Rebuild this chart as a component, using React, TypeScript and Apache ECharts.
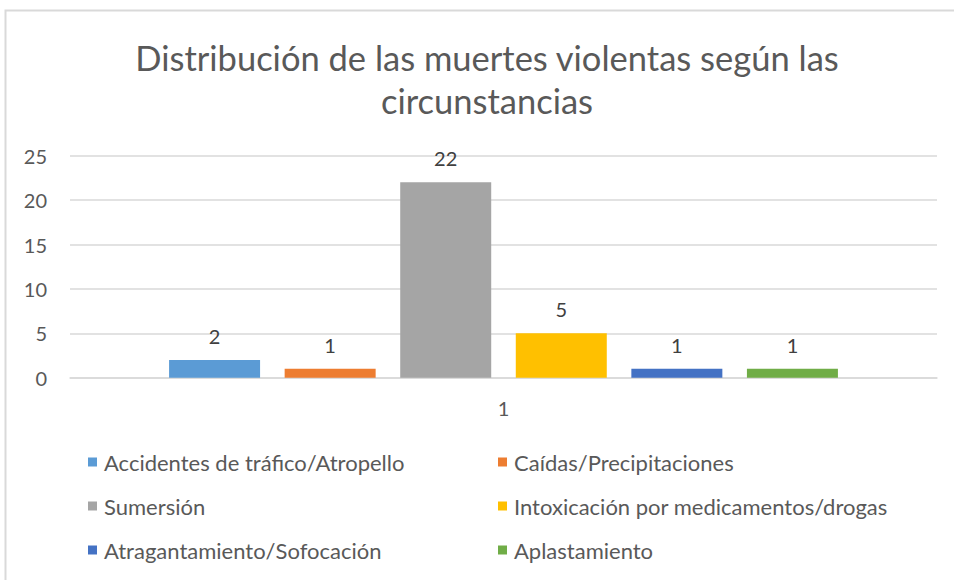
import React, { useEffect, useRef } from "react";
import * as echarts from "echarts";

const titleLines = ["Distribución de las muertes violentas según las", "circunstancias"];
const categories = ["1"];
const seriesNames = [
  "Accidentes de tráfico/Atropello",
  "Caídas/Precipitaciones",
  "Sumersión",
  "Intoxicación por medicamentos/drogas",
  "Atragantamiento/Sofocación",
  "Aplastamiento",
];
const seriesValues = [2, 1, 22, 5, 1, 1];
const seriesColors = ["#5B9BD5", "#ED7D31", "#A5A5A5", "#FFC000", "#4472C4", "#70AD47"];
const yMin = 0;
const yMax = 25;
const yInterval = 5;

const FONT = "Lato";

export default function App() {
  const ref = useRef<HTMLDivElement>(null);
  useEffect(() => {
    document.body.style.margin = "0";
    const chart = echarts.init(ref.current!, null, { renderer: "svg" });
    const legendCommon = {
      orient: "vertical",
      top: 446,
      itemWidth: 9,
      itemHeight: 9,
      itemGap: 22,
      icon: "rect",
      textStyle: { fontFamily: FONT, fontSize: 22, color: "#595959", padding: [0, 0, 0, 2] },
      selectedMode: false,
    };
    chart.setOption({
      animation: false,
      backgroundColor: "#ffffff",
      textStyle: { fontFamily: FONT },
      graphic: [
        {
          type: "polyline",
          shape: { points: [[5.5, 600], [5.5, 10.5], [960, 10.5]] },
          style: { stroke: "#d9d9d9", lineWidth: 2, fill: "none" },
          silent: true,
        },
        {
          type: "text",
          x: 487,
          y: 57,
          style: {
            text: titleLines[0],
            fontFamily: FONT,
            fontSize: 34.5,
            fill: "#595959",
            align: "center",
            verticalAlign: "middle",
          },
        },
        {
          type: "text",
          x: 487,
          y: 100,
          style: {
            text: titleLines[1],
            fontFamily: FONT,
            fontSize: 34.5,
            fill: "#595959",
            align: "center",
            verticalAlign: "middle",
          },
        },
      ],
      legend: [
        { ...legendCommon, left: 83, data: [seriesNames[0], seriesNames[2], seriesNames[4]] },
        { ...legendCommon, left: 493, data: [seriesNames[1], seriesNames[3], seriesNames[5]] },
      ],
      grid: {
        left: 70,
        right: 17,
        top: 155.7,
        bottom: 202.3,
        outerBoundsMode: "none",
        containLabel: false,
      },
      xAxis: {
        type: "category",
        data: categories,
        axisLine: { show: true, lineStyle: { color: "#d9d9d9", width: 1.5 } },
        axisTick: { show: false },
        axisLabel: { fontFamily: FONT, fontSize: 20, color: "#595959", margin: 20 },
      },
      yAxis: {
        type: "value",
        min: yMin,
        max: yMax,
        interval: yInterval,
        axisLine: { show: false },
        axisTick: { show: false },
        splitLine: { lineStyle: { color: "#d9d9d9", width: 1.5 } },
        axisLabel: { fontFamily: FONT, fontSize: 20, color: "#595959", margin: 23 },
      },
      series: seriesNames.map((name, i) => ({
        type: "bar",
        name,
        data: [seriesValues[i]],
        barWidth: 91,
        barGap: "27%",
        itemStyle: { color: seriesColors[i] },
        label: {
          show: true,
          position: "top",
          distance: 14,
          fontFamily: FONT,
          fontSize: 20,
          color: "#404040",
        },
      })),
    });
    return () => chart.dispose();
  }, []);
  return <div ref={ref} style={{ width: 954, height: 580 }} />;
}
